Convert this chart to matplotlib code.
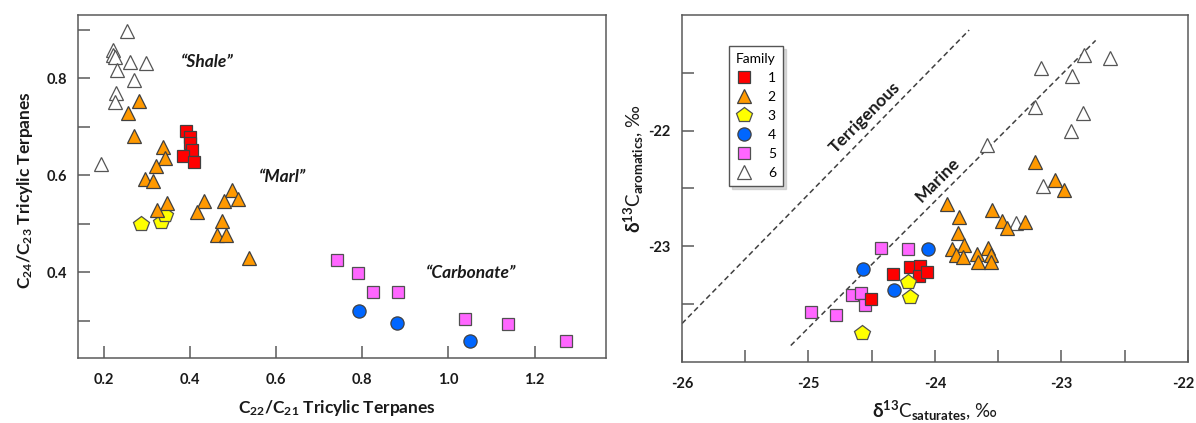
import matplotlib
matplotlib.use("Agg")
import matplotlib.pyplot as plt
from matplotlib.lines import Line2D
from matplotlib.ticker import FixedLocator, NullFormatter

plt.rcParams['font.family'] = ['Lato', 'DejaVu Sans']
plt.rcParams['mathtext.fontset'] = 'custom'
plt.rcParams['mathtext.rm'] = 'Lato:bold'
plt.rcParams['mathtext.bf'] = 'Lato:bold'
plt.rcParams['mathtext.it'] = 'Lato:bold:italic'
plt.rcParams['mathtext.default'] = 'rm'
plt.rcParams['mathtext.fallback'] = 'stix'

# ---- Tricyclic terpane ratios (C22/C21 vs C24/C23) by family ----
tri_x = {
    1: [0.390, 0.399, 0.401, 0.404, 0.384, 0.410],
    2: [0.281, 0.257, 0.271, 0.337, 0.341, 0.322, 0.295, 0.315, 0.347, 0.324,
        0.432, 0.417, 0.497, 0.511, 0.480, 0.474, 0.462, 0.484, 0.537],
    3: [0.287, 0.333, 0.341],
    4: [0.792, 0.881, 1.050],
    5: [0.742, 0.790, 0.825, 0.884, 1.038, 1.138, 1.272],
    6: [0.254, 0.221, 0.222, 0.227, 0.260, 0.298, 0.230, 0.269, 0.229, 0.227, 0.194],
}
tri_y = {
    1: [0.691, 0.678, 0.666, 0.652, 0.640, 0.627],
    2: [0.752, 0.728, 0.681, 0.657, 0.636, 0.618, 0.592, 0.587, 0.543, 0.527,
        0.547, 0.524, 0.570, 0.551, 0.546, 0.506, 0.476, 0.476, 0.429],
    3: [0.500, 0.504, 0.518],
    4: [0.319, 0.296, 0.259],
    5: [0.425, 0.399, 0.358, 0.358, 0.304, 0.293, 0.259],
    6: [0.896, 0.858, 0.848, 0.843, 0.834, 0.832, 0.817, 0.797, 0.770, 0.751, 0.623],
}

# ---- Carbon isotopes (saturates vs aromatics, per mil) by family ----
sat = {
    1: [-24.331, -24.198, -24.116, -24.124, -24.063, -24.508],
    2: [-23.907, -23.807, -23.815, -23.773, -23.868, -23.833, -23.782, -23.667,
        -23.661, -23.577, -23.561, -23.556, -23.548, -23.471, -23.431, -23.286,
        -23.206, -23.053, -22.982],
    3: [-24.217, -24.196, -24.579],
    4: [-24.566, -24.058, -24.323],
    5: [-24.429, -24.212, -24.979, -24.786, -24.653, -24.582, -24.556],
    6: [-22.820, -22.616, -23.159, -22.915, -23.206, -22.828, -22.921, -23.587,
        -23.145, -23.357],
}
aro = {
    1: [-23.240, -23.184, -23.170, -23.255, -23.227, -23.459],
    2: [-22.637, -22.745, -22.890, -22.986, -23.028, -23.076, -23.093, -23.065,
        -23.136, -23.014, -23.076, -23.136, -22.688, -22.779, -22.845, -22.794,
        -22.272, -22.425, -22.510],
    3: [-23.312, -23.439, -23.750],
    4: [-23.198, -23.023, -23.377],
    5: [-23.014, -23.028, -23.572, -23.600, -23.419, -23.405, -23.512],
    6: [-21.349, -21.371, -21.462, -21.528, -21.796, -21.845, -22.003, -22.122,
        -22.482, -22.802],
}

# Discrimination lines between terrigenous and marine oils (per mil)
terr_x = [-26.0, -23.73]
terr_y = [-23.67, -21.13]
mar_x = [-25.14, -22.73]
mar_y = [-23.86, -21.22]

families = [1, 2, 3, 4, 5, 6]
style = {
    1: dict(marker='s', color='#FF0000', ms=9.0),
    2: dict(marker='^', color='#FF9900', ms=10.5),
    3: dict(marker='p', color='#FFFF00', ms=11.5),
    4: dict(marker='o', color='#0066FF', ms=9.5),
    5: dict(marker='s', color='#FF66FF', ms=8.8),
    6: dict(marker='^', color='#FFFFFF', ms=10.5),
}
edge = {1: '#404040', 2: '#404040', 3: '#505050', 4: '#404040', 5: '#505050', 6: '#555555'}
draw_order = [6, 5, 4, 1, 3, 2]

spine_col = '#5a5a5a'
text_col = '#1a1a1a'

fig = plt.figure(figsize=(11.96, 4.23), dpi=100)
ax1 = fig.add_axes([0.0652, 0.1537, 0.4415, 0.8109])
ax2 = fig.add_axes([0.5702, 0.1449, 0.4231, 0.8196])


def plot_family(ax, xs, ys, fam):
    st = style[fam]
    return ax.plot(xs[fam], ys[fam], linestyle='none', marker=st['marker'],
                   markersize=st['ms'], markerfacecolor=st['color'],
                   markeredgecolor=edge[fam], markeredgewidth=0.9,
                   zorder=3)[0]


def style_axes(ax):
    for s in ax.spines.values():
        s.set_color(spine_col)
        s.set_linewidth(1.1)
    ax.tick_params(which='both', direction='in', length=8.5, width=1.1,
                   color=spine_col, labelsize=10.5, labelcolor=text_col)
    ax.tick_params(axis='x', which='both', pad=11)
    ax.tick_params(axis='y', which='both', pad=8)
    for lab in ax.get_xticklabels() + ax.get_yticklabels():
        lab.set_fontweight('bold')


# ---- left panel ----
for fam in draw_order:
    plot_family(ax1, tri_x, tri_y, fam)
ax1.set_xlim(0.14, 1.366)
ax1.set_ylim(0.223, 0.93)
ax1.xaxis.set_major_locator(FixedLocator([0.2, 0.4, 0.6, 0.8, 1.0, 1.2]))
ax1.set_xticklabels(['0.2', '0.4', '0.6', '0.8', '1.0', '1.2'])
ax1.yaxis.set_major_locator(FixedLocator([0.4, 0.6, 0.8]))
ax1.set_yticklabels(['0.4', '0.6', '0.8'])
ax1.yaxis.set_minor_locator(FixedLocator([0.3, 0.5, 0.7, 0.9]))
ax1.yaxis.set_minor_formatter(NullFormatter())
style_axes(ax1)

ax1.set_xlabel(r'C$_{22}$/C$_{21}$ Tricylic Terpanes', fontsize=12.5,
               fontweight='bold', color=text_col)
ax1.xaxis.set_label_coords(0.49, -0.118)
ax1.set_ylabel(r'C$_{24}$/C$_{23}$ Tricylic Terpanes', fontsize=12.5,
               fontweight='bold', color=text_col)
ax1.yaxis.set_label_coords(-0.082, 0.49)

lab_kw = dict(fontsize=12.5, fontweight='bold', fontstyle='italic',
              color=text_col, ha='center', va='center')
ax1.text(0.439, 0.834, '\u201cShale\u201d', **lab_kw)
ax1.text(0.614, 0.597, '\u201cMarl\u201d', **lab_kw)
ax1.text(1.053, 0.399, '\u201cCarbonate\u201d', **lab_kw)

# ---- right panel ----
ax2.plot(terr_x, terr_y, color='#404040', lw=1.1, dashes=(3.5, 2.2), zorder=2)
ax2.plot(mar_x, mar_y, color='#404040', lw=1.1, dashes=(3.5, 2.2), zorder=2)
for fam in draw_order:
    plot_family(ax2, sat, aro, fam)
ax2.set_xlim(-26, -22)
ax2.set_ylim(-24, -21)
ax2.xaxis.set_major_locator(FixedLocator([-26, -25, -24, -23, -22]))
ax2.set_xticklabels(['-26', '-25', '-24', '-23', ''])
ax2.xaxis.set_minor_locator(FixedLocator([-25.5, -24.5, -23.5, -22.5]))
ax2.xaxis.set_minor_formatter(NullFormatter())
ax2.yaxis.set_major_locator(FixedLocator([-23, -22]))
ax2.set_yticklabels(['-23', '-22'])
ax2.yaxis.set_minor_locator(FixedLocator([-23.5, -22.5, -21.5]))
ax2.yaxis.set_minor_formatter(NullFormatter())
style_axes(ax2)
# last x tick label nudged left so it stays inside the figure
ax2.annotate('-22', xy=(-22, 0), xycoords=('data', 'axes fraction'),
             xytext=(-3.5, -11), textcoords='offset points', ha='center',
             va='top', fontsize=10.5, fontweight='bold', color=text_col)

ax2.set_xlabel(r'$\delta^{13}$C$_{\mathrm{saturates}}$, ' + '\u2030',
               fontsize=13.5, color=text_col)
ax2.xaxis.set_label_coords(0.5, -0.108)
ax2.set_ylabel(r'$\delta^{13}$C$_{\mathrm{aromatics}}$, ' + '\u2030',
               fontsize=13.5, color=text_col)
ax2.yaxis.set_label_coords(-0.072, 0.556)

ax2.text(-24.55, -21.89, 'Terrigenous', rotation=45, fontsize=12.5,
         fontweight='bold', color=text_col, ha='center', va='center')
ax2.text(-23.98, -22.43, 'Marine', rotation=45, fontsize=12.5,
         fontweight='bold', color=text_col, ha='center', va='center')

leg_handles = []
for fam in families:
    st = style[fam]
    leg_handles.append(Line2D([], [], linestyle='none', marker=st['marker'],
                              markersize=st['ms'], markerfacecolor=st['color'],
                              markeredgecolor=edge[fam], markeredgewidth=0.9))
leg = ax2.legend(leg_handles, [str(f) for f in families], title='Family',
                 loc='upper left', bbox_to_anchor=(0.079, 0.93),
                 fontsize=10, title_fontsize=10, frameon=True, fancybox=False,
                 edgecolor='#555555', framealpha=1, handlelength=1.2,
                 handletextpad=1.1, labelspacing=0.5, borderpad=0.5,
                 shadow={'color': '0.75', 'alpha': 0.6, 'ox': 2, 'oy': -2})
leg.get_frame().set_linewidth(1.0)

fig.savefig('out.png', dpi=100)
